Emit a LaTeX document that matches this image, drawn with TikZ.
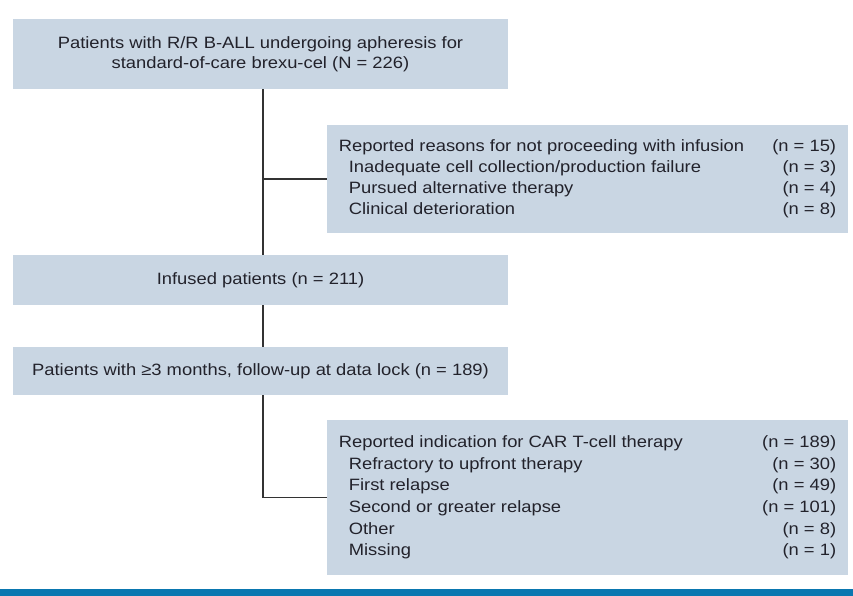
\documentclass[tikz,border=0pt]{standalone}
\usepackage{fontspec}
\setmainfont[FakeStretch=1.12]{Liberation Sans}
\definecolor{boxfill}{HTML}{C9D6E3}
\definecolor{txt}{HTML}{22222B}
\definecolor{barblue}{HTML}{0A77B0}
\definecolor{linec}{HTML}{333333}
\begin{document}
\begin{tikzpicture}[x=0.75pt,y=-0.75pt,
  box/.style={draw=none,fill=boxfill,text=txt,inner sep=0pt,align=center,font=\fontsize{12.3}{15}\selectfont},
  conn/.style={draw=linec,line width=1.1pt}]
\useasboundingbox (0,0) rectangle (853,596);
\fill[barblue] (0,589) rectangle (853,596);
\node[box,minimum width=495*0.75pt,minimum height=70*0.75pt] (b1) at (260.5,54)
  {Patients with R/R B-ALL undergoing apheresis for\\standard-of-care brexu-cel (N = 226)};
\node[box,minimum width=521*0.75pt,minimum height=108*0.75pt,align=left] (b2) at (587.5,179)
  {\raisebox{-1.5pt}{\begin{minipage}{373pt}\fontsize{12.3}{15.75}\selectfont
  Reported reasons for not proceeding with infusion\hfill(n = 15)\\
  \hspace*{7.5pt}Inadequate cell collection/production failure\hfill(n = 3)\\
  \hspace*{7.5pt}Pursued alternative therapy\hfill(n = 4)\\
  \hspace*{7.5pt}Clinical deterioration\hfill(n = 8)
  \end{minipage}}};
\node[box,minimum width=495*0.75pt,minimum height=50*0.75pt] (b3) at (260.5,280)
  {Infused patients (n = 211)};
\node[box,minimum width=495*0.75pt,minimum height=48*0.75pt] (b4) at (260.5,371)
  {Patients with ≥3 months, follow-up at data lock (n = 189)};
\node[box,minimum width=521*0.75pt,minimum height=155*0.75pt,align=left] (b5) at (587.5,497.5)
  {\raisebox{-1.5pt}{\begin{minipage}{373pt}\fontsize{12.3}{16.2}\selectfont
  Reported indication for CAR T-cell therapy\hfill(n = 189)\\
  \hspace*{7.5pt}Refractory to upfront therapy\hfill(n = 30)\\
  \hspace*{7.5pt}First relapse\hfill(n = 49)\\
  \hspace*{7.5pt}Second or greater relapse\hfill(n = 101)\\
  \hspace*{7.5pt}Other\hfill(n = 8)\\
  \hspace*{7.5pt}Missing\hfill(n = 1)
  \end{minipage}}};
\coordinate (sp) at (263,0);
\draw[conn] (b1.south -| sp) -- (b3.north -| sp);
\draw[conn] (b2.west -| sp) -- (b2.west);
\draw[conn] (b3.south -| sp) -- (b4.north -| sp);
\draw[conn] (b4.south -| sp) -- (b5.west -| sp) -- (b5.west);
\end{tikzpicture}
\end{document}
